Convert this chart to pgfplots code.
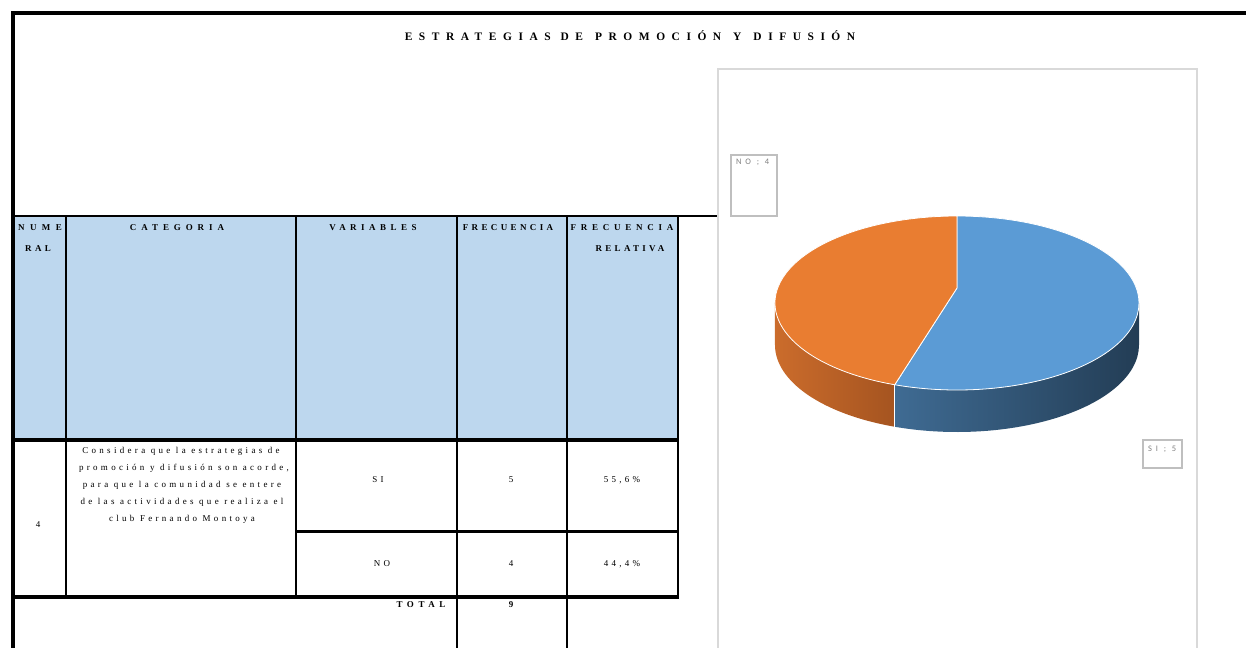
\documentclass[border=0pt]{standalone}
\usepackage{fontspec}
\usepackage{pgfplots}
\usepackage{pgfplotstable}
\pgfplotsset{compat=1.18}
\setmainfont{Liberation Serif}
\newfontfamily\titlefont[LetterSpace=57]{Liberation Serif}
\newfontfamily\bodyfont[LetterSpace=37]{Liberation Serif}
\newfontfamily\labfont[LetterSpace=45]{Carlito}
\newcommand\hd[1]{\bfseries\fontsize{9}{11}\selectfont\addfontfeature{LetterSpace=#1}}
\definecolor{hdr}{HTML}{BDD7EE}
\definecolor{siblue}{HTML}{5B9BD5}
\definecolor{noorange}{HTML}{E97D31}
\definecolor{siside1}{HTML}{3F6B93}
\definecolor{siside2}{HTML}{233D55}
\definecolor{noside1}{HTML}{CB6C2C}
\definecolor{noside2}{HTML}{A55420}
\definecolor{frame}{HTML}{D9D9D9}
\definecolor{labbox}{HTML}{BFBFBF}
\definecolor{labtxt}{HTML}{7F7F7F}

\pgfplotstableread{
label value
SI 5
NO 4
}\piedata

\begin{document}
\begin{tikzpicture}
\pgfplotstablegetelem{0}{value}\of\piedata \edef\vSI{\pgfplotsretval}
\pgfplotstablegetelem{1}{value}\of\piedata \edef\vNO{\pgfplotsretval}
\pgfmathsetmacro\aEnd{90-360*\vSI/(\vSI+\vNO)}
\pgfmathsetmacro\aEndNO{\aEnd-360*\vNO/(\vSI+\vNO)}
\begin{axis}[width=1246bp, height=648bp, scale only axis,
  xmin=0, xmax=1246, ymin=0, ymax=648, y dir=reverse,
  hide axis, clip=false]
% header fill
\fill[hdr] (axis cs:13,216) rectangle (axis cs:678,440);
% table lines
\draw[black, line width=3.2] (axis cs:11,13) -- (axis cs:1246,13);
\draw[black, line width=3.2] (axis cs:13,13) -- (axis cs:13,648);
\draw[black, line width=2.8] (axis cs:13,216) -- (axis cs:718,216);
\draw[black, line width=2.6] (axis cs:66,216) -- (axis cs:66,597);
\draw[black, line width=2.6] (axis cs:296,216) -- (axis cs:296,597);
\draw[black, line width=2.6] (axis cs:457,216) -- (axis cs:457,648);
\draw[black, line width=2.6] (axis cs:567,216) -- (axis cs:567,648);
\draw[black, line width=2.6] (axis cs:678,216) -- (axis cs:678,597);
\draw[black, line width=3.4] (axis cs:13,440) -- (axis cs:679,440);
\draw[black, line width=3] (axis cs:296,531) -- (axis cs:679,531);
\draw[black, line width=3.4] (axis cs:13,597) -- (axis cs:679,597);
% chart frame
\draw[frame, line width=2] (axis cs:718,69) rectangle (axis cs:1197,660);
% title
\node[anchor=base, font=\titlefont\bfseries\fontsize{11.5}{13}\selectfont] at (axis cs:630,41) {ESTRATEGIAS\hspace{10bp}DE\hspace{12bp}PROMOCIÓN\hspace{12bp}Y\hspace{12bp}DIFUSIÓN};
% header texts
\begin{scope}[every node/.style={anchor=base}]
\node[font=\hd{61}] at (axis cs:40,230) {NUME};
\node[font=\hd{39}] at (axis cs:38,251) {RAL};
\node[font=\hd{55}] at (axis cs:177,230) {CATEGORIA};
\node[font=\hd{50}] at (axis cs:373,230) {VARIABLES};
\node[font=\hd{38}] at (axis cs:508,230) {FRECUENCIA};
\node[font=\hd{53}] at (axis cs:622,230) {FRECUENCIA};
\node[font=\hd{37}] at (axis cs:630,251) {RELATIVA};
\node[font=\hd{51}] at (axis cs:421,607) {TOTAL};
\node[font=\hd{0}] at (axis cs:511,607) {9};
\end{scope}
% body texts
\begin{scope}[every node/.style={anchor=base, font=\bodyfont\fontsize{9}{11}\selectfont}]
\node at (axis cs:38,527) {4};
\node at (axis cs:181,453) {Considera que la estrategias de};
\node at (axis cs:184,470) {promoción y difusión son acorde,};
\node at (axis cs:182,487) {para que la comunidad se entere};
\node at (axis cs:182,504) {de las actividades que realiza el};
\node at (axis cs:182,521) {club Fernando Montoya};
\node at (axis cs:378,482) {SI};
\node at (axis cs:511,482) {5};
\node at (axis cs:622,482) {55,6\%};
\node at (axis cs:382,566) {NO};
\node at (axis cs:511,566) {4};
\node at (axis cs:622,566) {44,4\%};
\end{scope}
% data label boxes
\draw[labbox, line width=2] (axis cs:731,155) rectangle (axis cs:777,216);
\node[anchor=base west, inner sep=0pt, text=labtxt, font=\labfont\fontsize{8.5}{10}\selectfont] at (axis cs:736,165) {NO ; 4};
\draw[labbox, line width=2] (axis cs:1143,440) rectangle (axis cs:1182,468);
\node[anchor=base west, inner sep=0pt, text=labtxt, font=\labfont\fontsize{8.5}{10}\selectfont] at (axis cs:1148,451) {SI ; 5};
% pie
\begin{scope}[shift={(axis cs:957,303)}]
\shade[left color=noside1, right color=noside2]
  (-180:182bp and 87bp) arc[start angle=-180, end angle=\aEnd, x radius=182bp, y radius=87bp]
  -- ++(0bp,-42bp) arc[start angle=\aEnd, end angle=-180, x radius=182bp, y radius=87bp] -- cycle;
\shade[left color=siside1, right color=siside2]
  (\aEnd:182bp and 87bp) arc[start angle=\aEnd, end angle=0, x radius=182bp, y radius=87bp]
  -- ++(0bp,-42bp) arc[start angle=0, end angle=\aEnd, x radius=182bp, y radius=87bp] -- cycle;
\draw[white, line width=0.8] (\aEnd:182bp and 87bp) -- ++(0bp,-42bp);
\fill[siblue, draw=white, line width=0.8]
  (0bp,15bp) -- (90:182bp and 87bp) arc[start angle=90, end angle=\aEnd, x radius=182bp, y radius=87bp] -- cycle;
\fill[noorange, draw=white, line width=0.8]
  (0bp,15bp) -- (\aEnd:182bp and 87bp) arc[start angle=\aEnd, end angle=\aEndNO, x radius=182bp, y radius=87bp] -- cycle;
\end{scope}
\end{axis}
\pgfresetboundingbox
\path (0,0) rectangle (1246bp,648bp);
\end{tikzpicture}
\end{document}
